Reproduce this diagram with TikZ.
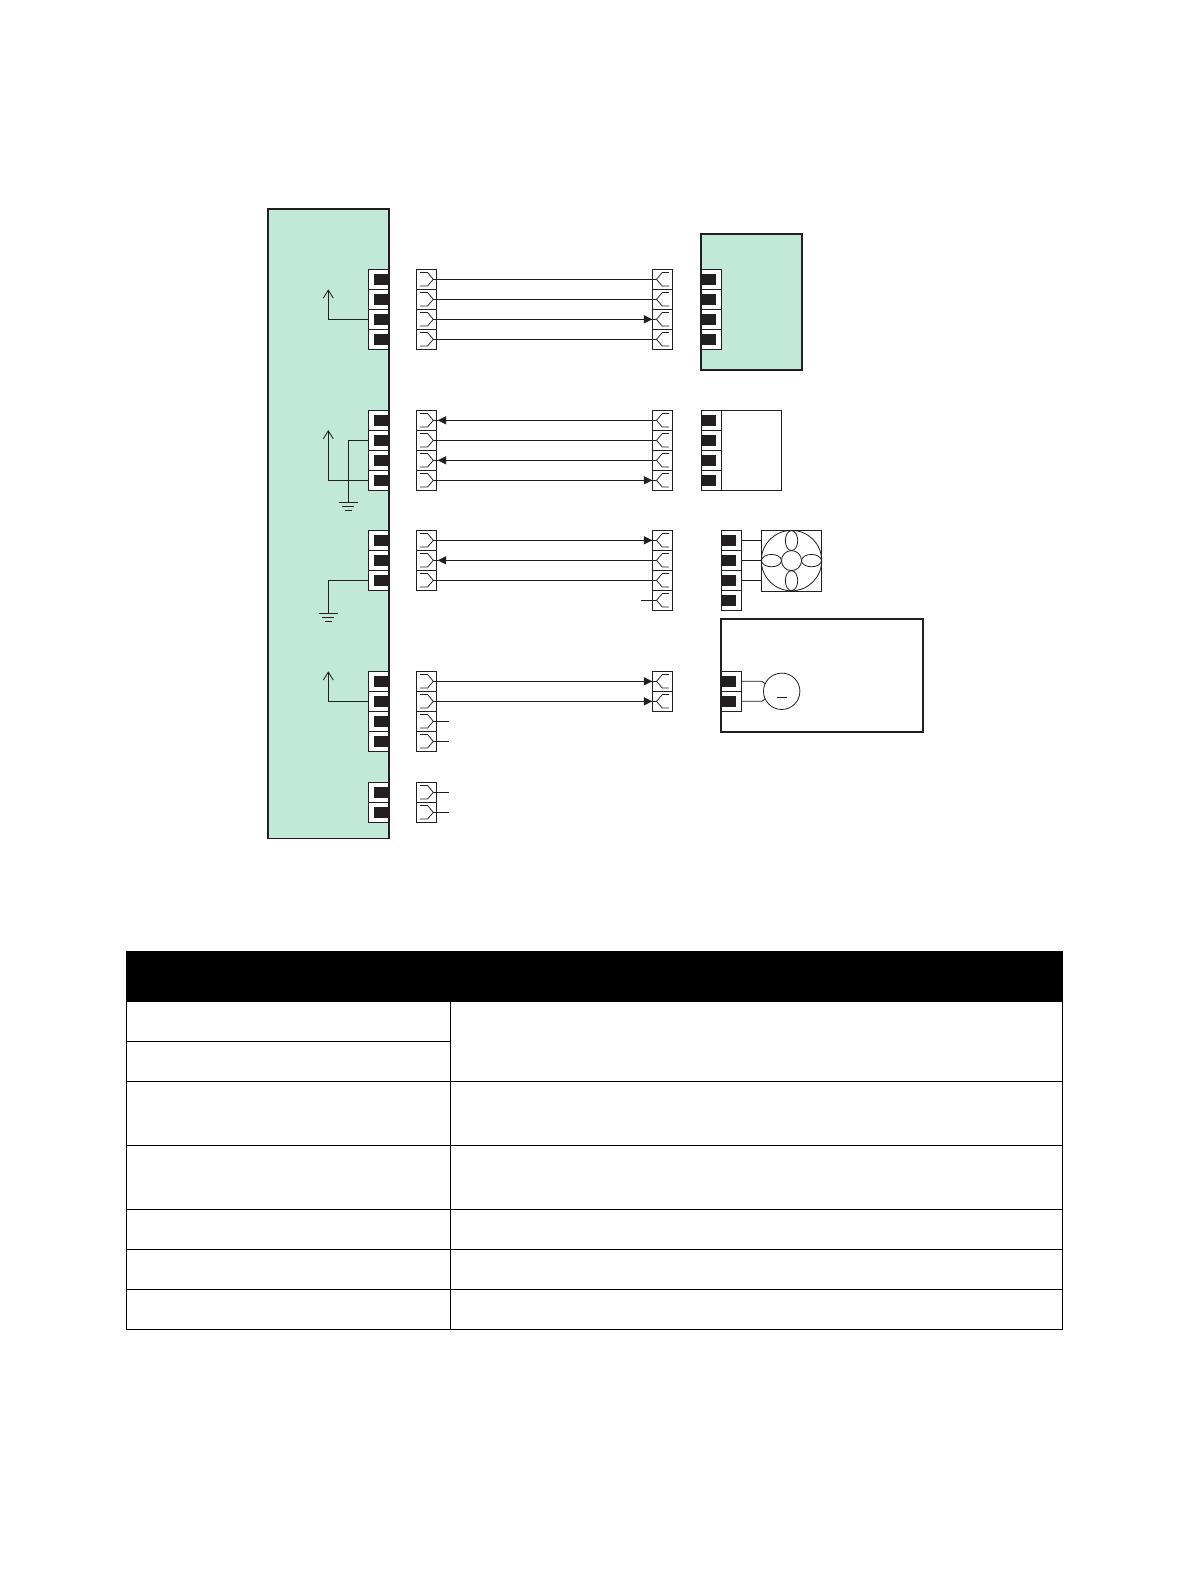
\documentclass[tikz,border=0pt]{standalone}
\usetikzlibrary{arrows.meta,shapes.geometric}
\definecolor{boardgreen}{HTML}{C2E8D8}
\definecolor{inkdark}{HTML}{231F20}
\tikzset{
  x=1pt,y=-1pt,
  wire/.style={draw=inkdark,line width=0.85pt},
  border/.style={draw=inkdark,line width=1.7pt},
  cellbox/.style={draw=inkdark,fill=white,line width=0.8pt,minimum width=20.2pt,minimum height=20pt,inner sep=0pt,outer sep=0pt,anchor=north west},
  blackpad/.style={fill=inkdark},
  glyph/.style={draw=inkdark,line width=0.75pt},
  upwire/.style={wire,-{Straight Barb[length=8pt,width=10pt]}},
  tablecell/.style={draw=black,line width=0.85pt,inner sep=0pt,outer sep=0pt,anchor=north west},
  fanpart/.style={draw=inkdark,line width=0.8pt},
}
% board pins, pad towards the right
\newcommand\pinsR[4]{\foreach \i in {1,...,#4}{
  \node[cellbox] (#1\i) at ({#2},{#3+(\i-1)*20}) {};
  \fill[blackpad] ({#2+5.7},{#3+(\i-1)*20+4.4}) rectangle ++(14.5,11.4);
}}
% device pins, pad towards the left
\newcommand\pinsL[4]{\foreach \i in {1,...,#4}{
  \node[cellbox] (#1\i) at ({#2},{#3+(\i-1)*20}) {};
  \fill[blackpad] ({#2},{#3+(\i-1)*20+4.4}) rectangle ++(14.7,11.4);
}}
% harness connector on the left, opens left
\newcommand\plugs[4]{\foreach \i in {1,...,#4}{
  \node[cellbox] (#1\i) at ({#2},{#3+(\i-1)*20}) {};
  \coordinate (#1\i t) at ([xshift=17pt]#1\i.west);
  \draw[glyph] ([xshift=3.7pt,yshift=6.7pt]#1\i.west) -- ([xshift=11.3pt,yshift=6.7pt]#1\i.west) -- (#1\i t) -- ([xshift=11.3pt,yshift=-6.7pt]#1\i.west) -- ([xshift=3.7pt,yshift=-6.7pt]#1\i.west);
}}
% harness connector on the right, opens right
\newcommand\jacks[4]{\foreach \i in {1,...,#4}{
  \node[cellbox] (#1\i) at ({#2},{#3+(\i-1)*20}) {};
  \coordinate (#1\i t) at ([xshift=-16pt]#1\i.east);
  \draw[glyph] ([xshift=-3.7pt,yshift=6.7pt]#1\i.east) -- ([xshift=-10.3pt,yshift=6.7pt]#1\i.east) -- (#1\i t) -- ([xshift=-10.3pt,yshift=-6.7pt]#1\i.east) -- ([xshift=-3.7pt,yshift=-6.7pt]#1\i.east);
}}
\newcommand\tipR[1]{\fill[inkdark] (#1.west) -- ++(-8.4,-4.2) -- ++(0,8.4) -- cycle;}
\newcommand\tipL[1]{\fill[inkdark] ([xshift=1.3pt]#1.east) -- ++(8.4,-4.2) -- ++(0,8.4) -- cycle;}
\newcommand\earth[1]{
  \draw[wire] ([xshift=-9.5pt]#1) -- ([xshift=9.5pt]#1);
  \draw[wire] ([xshift=-6pt,yshift=-4.2pt]#1) -- ([xshift=6pt,yshift=-4.2pt]#1);
  \draw[wire] ([xshift=-3.5pt,yshift=-8.2pt]#1) -- ([xshift=3.5pt,yshift=-8.2pt]#1);
}
\newcommand\tcell[5]{\node[tablecell,minimum width={#4-#2},minimum height={#5-#3}] (#1) at (#2,#3) {};}
\begin{document}
\begin{tikzpicture}
\useasboundingbox[fill=white] (0,0) rectangle (1188,1584);

% main board
\fill[boardgreen] (268,209) rectangle (389,838.5);
\pinsR{ma}{368.6}{269.3}{4}
\pinsR{mb}{368.6}{410.3}{4}
\pinsR{mc}{368.6}{530.3}{3}
\pinsR{md}{368.6}{671.3}{4}
\pinsR{me}{368.6}{782.3}{2}
\node[border,rectangle,minimum width=121pt,minimum height=629.5pt,inner sep=0pt,outer sep=0pt,anchor=north west] (board) at (268,209) {};

% board internal wiring
\coordinate (upa) at (328.3,289.3);
\coordinate (upb) at (328.3,430);
\coordinate (upd) at (328.3,671.3);
\coordinate (gndb) at (348.3,502.3);
\coordinate (gndc) at (328.3,613.5);
\draw[upwire] (ma3.west) -| (upa);
\draw[upwire] (mb4.west) -| (upb);
\draw[upwire] (md2.west) -| (upd);
\draw[wire] (mb2.west) -| (gndb);
\draw[wire] (mc3.west) -| (gndc);
\earth{gndb}
\earth{gndc}

% harness connectors
\plugs{la}{416.3}{269.3}{4}
\plugs{lb}{416.3}{410.3}{4}
\plugs{lc}{416.3}{530.3}{3}
\plugs{ld}{416.3}{671.3}{4}
\plugs{le}{416.3}{782.3}{2}
\jacks{ra}{652.3}{269.3}{4}
\jacks{rb}{652.3}{410.3}{4}
\jacks{rc}{652.3}{530.3}{4}
\jacks{rd}{652.3}{671.3}{2}

% harness wires
\foreach \g/\n in {a/4,b/4,c/3,d/2}{
  \foreach \i in {1,...,\n}{
    \draw[wire] (l\g\i t) -- (r\g\i t);
  }
}
\tipR{ra3}
\tipL{lb1}
\tipL{lb3}
\tipR{rb4}
\tipR{rc1}
\tipL{lc2}
\tipR{rd1}
\tipR{rd2}

% free stubs
\coordinate (stubr) at ([xshift=-15.6pt]rc4t);
\draw[wire] (rc4t) -- (stubr);
\foreach \n in {ld3,ld4,le1,le2}{
  \coordinate (\n s) at ([xshift=16pt]\n t);
  \draw[wire] (\n t) -- (\n s);
}

% device A
\fill[boardgreen] (701,233.7) rectangle (802,370);
\pinsL{da}{701}{269.3}{4}
\node[border,rectangle,minimum width=101pt,minimum height=136.3pt,inner sep=0pt,outer sep=0pt,anchor=north west] (deva) at (701,233.7) {};

% device B
\node[cellbox,minimum width=79.5pt,minimum height=80pt,fill=white] (devb) at (701.5,410.3) {};
\pinsL{db}{701.5}{410.3}{4}

% fan
\pinsL{dc}{721.3}{530.3}{4}
\node[cellbox,minimum width=60.4pt,minimum height=60.6pt] (fan) at (761.3,530.3) {};
\draw[fanpart] (fan.center) circle[radius=30.2];
\node[fanpart,circle,minimum size=20pt,inner sep=0pt,outer sep=0pt] (hub) at (fan.center) {};
\draw[fanpart] ([yshift=20pt]fan.center) ellipse[x radius=6.2,y radius=10];
\draw[fanpart] ([yshift=-20pt]fan.center) ellipse[x radius=6.2,y radius=10];
\draw[fanpart] ([xshift=-20pt]fan.center) ellipse[x radius=10,y radius=6.2];
\draw[fanpart] ([xshift=20pt]fan.center) ellipse[x radius=10,y radius=6.2];
\foreach \i in {1,2,3}{
  \draw[wire] (dc\i.east) -- (dc\i.east -| fan.west);
}

% motor unit
\pinsL{dd}{721}{671.3}{2}
\node[border,rectangle,minimum width=202pt,minimum height=113pt,inner sep=0pt,outer sep=0pt,anchor=north west] (devd) at (721,618.7) {};
\node[fanpart,circle,minimum size=36.4pt,inner sep=0pt,outer sep=0pt] (motor) at (781.7,691.3) {};
\draw[wire] (dd1.east) -- ++(20.6,0) -- (motor.155);
\draw[wire] (dd2.east) -- ++(20.6,0) -- (motor.205);
\draw[wire] ([xshift=-5.2pt,yshift=-6pt]motor.center) -- ([xshift=5.2pt,yshift=-6pt]motor.center);

% table
\fill[black] (126.3,951) rectangle (1062.7,1001.7);
\tcell{ta}{126.3}{1001.7}{450.3}{1041.3}
\tcell{tb}{126.3}{1041.3}{450.3}{1081.3}
\tcell{tc}{450.3}{1001.7}{1062.7}{1081.3}
\tcell{td}{126.3}{1081.3}{450.3}{1145.3}
\tcell{te}{450.3}{1081.3}{1062.7}{1145.3}
\tcell{tf}{126.3}{1145.3}{450.3}{1209.3}
\tcell{tg}{450.3}{1145.3}{1062.7}{1209.3}
\tcell{th}{126.3}{1209.3}{450.3}{1249.3}
\tcell{ti}{450.3}{1209.3}{1062.7}{1249.3}
\tcell{tj}{126.3}{1249.3}{450.3}{1289.3}
\tcell{tk}{450.3}{1249.3}{1062.7}{1289.3}
\tcell{tl}{126.3}{1289.3}{450.3}{1329.2}
\tcell{tm}{450.3}{1289.3}{1062.7}{1329.2}
\end{tikzpicture}
\end{document}
